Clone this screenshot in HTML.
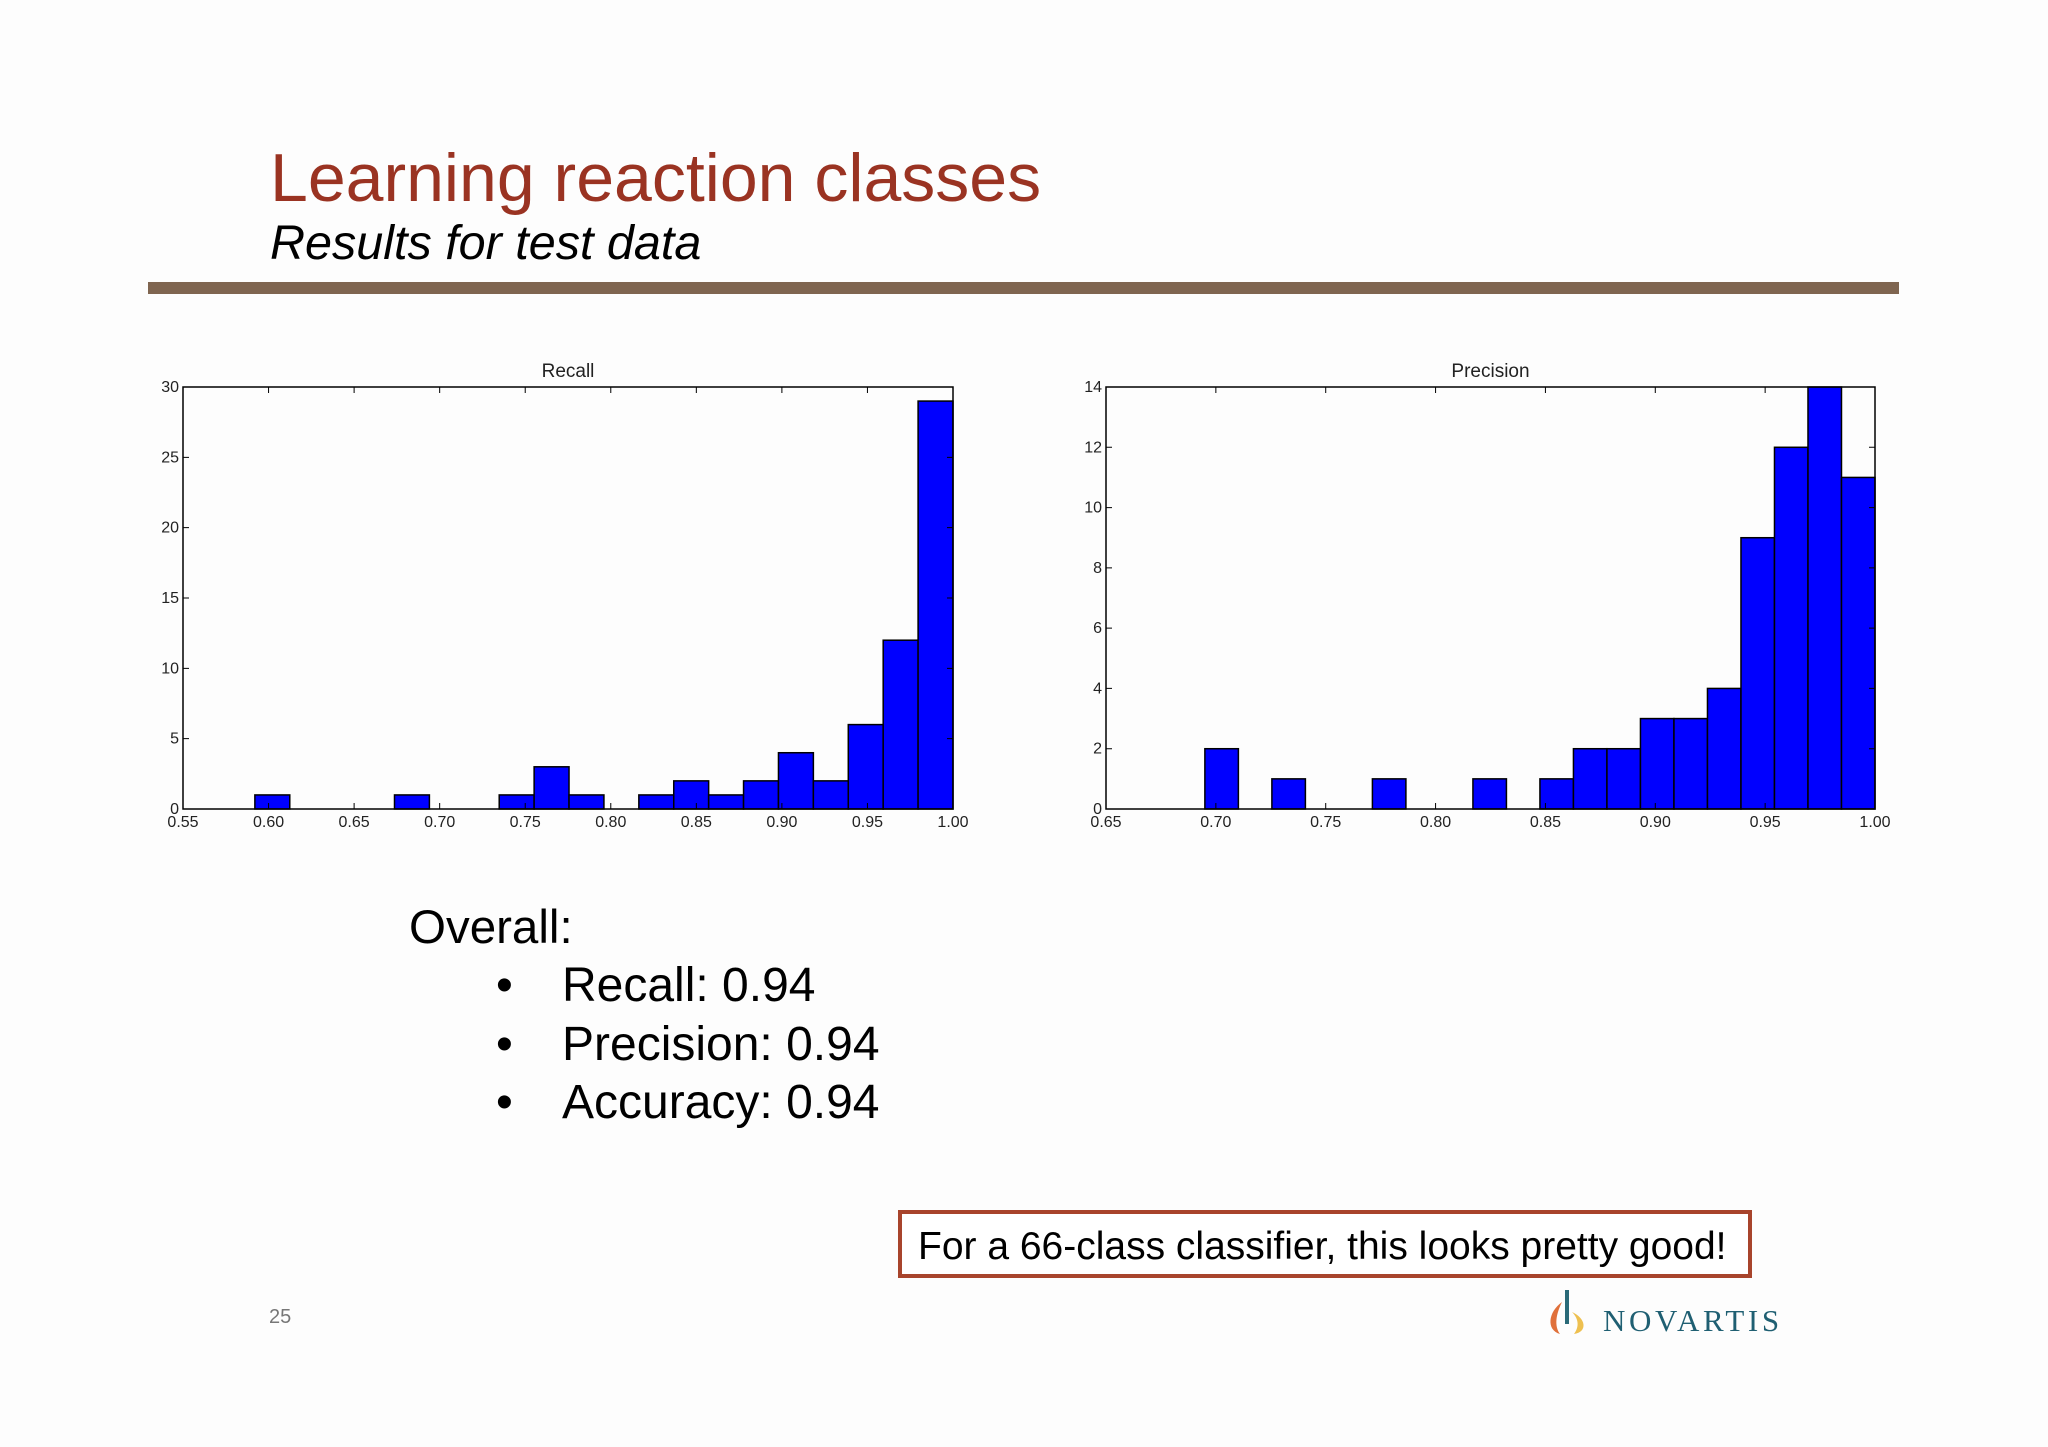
<!DOCTYPE html>
<html><head><meta charset="utf-8"><style>
html,body{margin:0;padding:0;background:#fdfdfd;}
svg{display:block;font-family:"Liberation Sans",sans-serif;}
</style></head><body>
<svg id="page" width="2048" height="1447" viewBox="0 0 2048 1447">
<rect x="0" y="0" width="2048" height="1447" fill="#fdfdfd"/>
<text x="270" y="201" font-size="68" fill="#9a3322">Learning reaction classes</text>
<text x="270" y="259" font-size="48.5" font-style="italic" fill="#000">Results for test data</text>
<rect x="148" y="282" width="1751" height="12" fill="#7f6550"/>
<g id="recall"></g>
<g id="precision"></g>
<text x="409" y="943" font-size="47.5" fill="#000">Overall:</text>
<g font-size="48" fill="#000">
<text x="496" y="1001">•</text>
<text x="562" y="1001">Recall: 0.94</text>
<text x="496" y="1060">•</text>
<text x="562" y="1060">Precision: 0.94</text>
<text x="496" y="1118">•</text>
<text x="562" y="1118">Accuracy: 0.94</text>
</g>
<rect x="900" y="1212" width="850" height="64" fill="#fff" stroke="#a8442c" stroke-width="4"/>
<text x="918" y="1259" font-size="39" fill="#000">For a 66-class classifier, this looks pretty good!</text>
<text x="269" y="1323" font-size="20" fill="#777">25</text>
<g>
<path d="M1562 1302 C1548 1312 1546 1330 1560 1334 C1554 1326 1556 1314 1562 1302Z" fill="#e0703a"/>
<path d="M1572 1312 C1586 1318 1588 1332 1574 1334 C1580 1326 1578 1318 1572 1312Z" fill="#eec050"/>
<rect x="1565" y="1290" width="4" height="34" fill="#2a6a78"/>
<text x="1603" y="1331" font-size="31" fill="#1f5f72" font-family="Liberation Serif,serif" letter-spacing="3.6">NOVARTIS</text>
</g>
</svg>
<script>
const recallCounts = [1,0,0,0,1,0,0,1,3,1,0,1,2,1,2,4,2,6,12,29];
const recallBinStart = 0.592;
const recallBinEnd = 1.0;
const recallXTicks = ["0.55","0.60","0.65","0.70","0.75","0.80","0.85","0.90","0.95","1.00"];
const recallYTicks = [0,5,10,15,20,25,30];

const precisionCounts = [2,0,1,0,0,1,0,0,1,0,1,2,2,3,3,4,9,12,14,11];
const precisionBinStart = 0.695;
const precisionBinEnd = 1.0;
const precisionXTicks = ["0.65","0.70","0.75","0.80","0.85","0.90","0.95","1.00"];
const precisionYTicks = [0,2,4,6,8,10,12,14];

const NS = "http://www.w3.org/2000/svg";
function mk(tag, attrs, parent){
  const e = document.createElementNS(NS, tag);
  for (const k in attrs) e.setAttribute(k, attrs[k]);
  parent.appendChild(e);
  return e;
}
function drawHist(g, title, counts, b0, b1, xTicks, yTicks, box){
  const xmin = parseFloat(xTicks[0]), xmax = parseFloat(xTicks[xTicks.length-1]);
  const ymax = yTicks[yTicks.length-1];
  const sx = v => box.l + (v - xmin) / (xmax - xmin) * (box.r - box.l);
  const sy = v => box.b - v / ymax * (box.b - box.t);
  const bw = (b1 - b0) / counts.length;
  counts.forEach((c, i) => {
    if (c <= 0) return;
    const x0 = sx(b0 + i*bw), x1 = sx(b0 + (i+1)*bw);
    const r = mk("rect", {x:x0, y:sy(c), width:x1-x0, height:sy(0)-sy(c), fill:"#0000ff", stroke:"#000", "stroke-width":1.5}, g);
    
    
  });
  const frame = mk("rect", {x:box.l, y:box.t, width:box.r-box.l, height:box.b-box.t, fill:"none", stroke:"#000", "stroke-width":1.5}, g);
  
  
  xTicks.forEach(t => {
    const x = sx(parseFloat(t));
    const tk = mk("path", {d:`M${x} ${box.b}v-6M${x} ${box.t}v6`, stroke:"#000", "stroke-width":1}, g);
    
    
    const lb = mk("text", {x:x, y:box.b+18, "font-size":16, "text-anchor":"middle", fill:"#222"}, g);
    lb.textContent = t;
    
    
  });
  yTicks.forEach(t => {
    const y = sy(t);
    const tk = mk("path", {d:`M${box.l} ${y}h6M${box.r} ${y}h-6`, stroke:"#000", "stroke-width":1}, g);
    
    
    const lb = mk("text", {x:box.l-4, y:y+5, "font-size":16, "text-anchor":"end", fill:"#222"}, g);
    lb.textContent = t;
    
    
  });
  const tt = mk("text", {x:(box.l+box.r)/2, y:box.t-10, "font-size":19, "text-anchor":"middle", fill:"#222"}, g);
  tt.textContent = title;
  
  
}
drawHist(document.getElementById("recall"), "Recall", recallCounts, recallBinStart, recallBinEnd, recallXTicks, recallYTicks, {l:183, r:953, t:387, b:809});
drawHist(document.getElementById("precision"), "Precision", precisionCounts, precisionBinStart, precisionBinEnd, precisionXTicks, precisionYTicks, {l:1106, r:1875, t:387, b:809});
</script>
</body></html>
